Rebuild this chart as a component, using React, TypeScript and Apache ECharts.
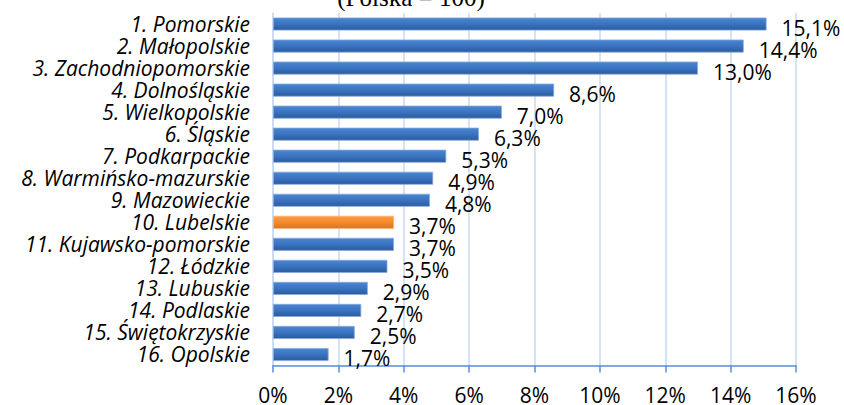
import React, { useEffect, useRef } from "react";
import * as echarts from "echarts";

const categories = [
  "1. Pomorskie",
  "2. Małopolskie",
  "3. Zachodniopomorskie",
  "4. Dolnośląskie",
  "5. Wielkopolskie",
  "6. Śląskie",
  "7. Podkarpackie",
  "8. Warmińsko-mazurskie",
  "9. Mazowieckie",
  "10. Lubelskie",
  "11. Kujawsko-pomorskie",
  "12. Łódzkie",
  "13. Lubuskie",
  "14. Podlaskie",
  "15. Świętokrzyskie",
  "16. Opolskie",
];
const values = [15.1, 14.4, 13.0, 8.6, 7.0, 6.3, 5.3, 4.9, 4.8, 3.7, 3.7, 3.5, 2.9, 2.7, 2.5, 1.7];
const highlighted = "10. Lubelskie";
const titleText = "(Polska = 100)";

const FONT = "'Open Sans', Lato, sans-serif";

export default function App() {
  const ref = useRef<HTMLDivElement>(null);
  useEffect(() => {
    if (!ref.current) return;
    const chart = echarts.init(ref.current, undefined, { renderer: "svg" });
    const blue = new echarts.graphic.LinearGradient(0, 0, 0, 1, [
      { offset: 0, color: "#4a86d2" },
      { offset: 0.5, color: "#3a73c0" },
      { offset: 1, color: "#2b5b9c" },
    ]);
    const orange = new echarts.graphic.LinearGradient(0, 0, 0, 1, [
      { offset: 0, color: "#fd9c3e" },
      { offset: 0.5, color: "#f38a2c" },
      { offset: 1, color: "#dc741c" },
    ]);
    chart.setOption({
      animation: false,
      backgroundColor: "#ffffff",
      title: {
        text: titleText,
        left: 406,
        textAlign: "center",
        top: -20,
        textStyle: {
          fontFamily: "'Liberation Serif', 'Times New Roman', serif",
          fontWeight: "normal",
          fontSize: 25,
          color: "#000",
        },
      },
      grid: { left: 273, right: 48, top: 13, bottom: 38 },
      xAxis: {
        type: "value",
        min: 0,
        max: 16,
        interval: 2,
        axisLine: { show: true, lineStyle: { color: "#5b8bd5", width: 1.5 } },
        axisTick: { show: true, length: 7, lineStyle: { color: "#5b8bd5", width: 1.5 } },
        splitLine: { show: true, lineStyle: { color: "#c8daf2", width: 1.5 } },
        axisLabel: {
          margin: 20,
          fontFamily: FONT,
          fontSize: 21,
          lineHeight: 18,
          color: "#000",
          formatter: (v: number) => `${v}%`,
        },
      },
      yAxis: {
        type: "category",
        data: categories,
        inverse: true,
        axisLine: { show: true, lineStyle: { color: "#c8daf2", width: 1.5 } },
        axisTick: { show: false },
        axisLabel: {
          interval: 0,
          margin: 23,
          fontFamily: FONT,
          fontStyle: "italic",
          fontSize: 21,
          lineHeight: 20,
          color: "#000",
        },
      },
      series: [
        {
          type: "bar",
          barWidth: 13,
          data: values.map((v, i) => ({
            value: v,
            itemStyle: {
              color: categories[i] === highlighted ? orange : blue,
              borderColor: categories[i] === highlighted ? "#f7b27a" : "#86a9de",
              borderWidth: 0.8,
            },
          })),
          label: {
            show: true,
            position: "right",
            distance: 15,
            offset: [0, 4],
            fontFamily: FONT,
            fontSize: 21,
            lineHeight: 20,
            color: "#000",
            formatter: (p: any) => `${Number(p.value).toFixed(1).replace(".", ",")}%`,
          },
        },
      ],
    });
    return () => chart.dispose();
  }, []);
  return (
    <div
      ref={ref}
      style={{ position: "absolute", left: 0, top: 0, width: 844, height: 405 }}
    />
  );
}
